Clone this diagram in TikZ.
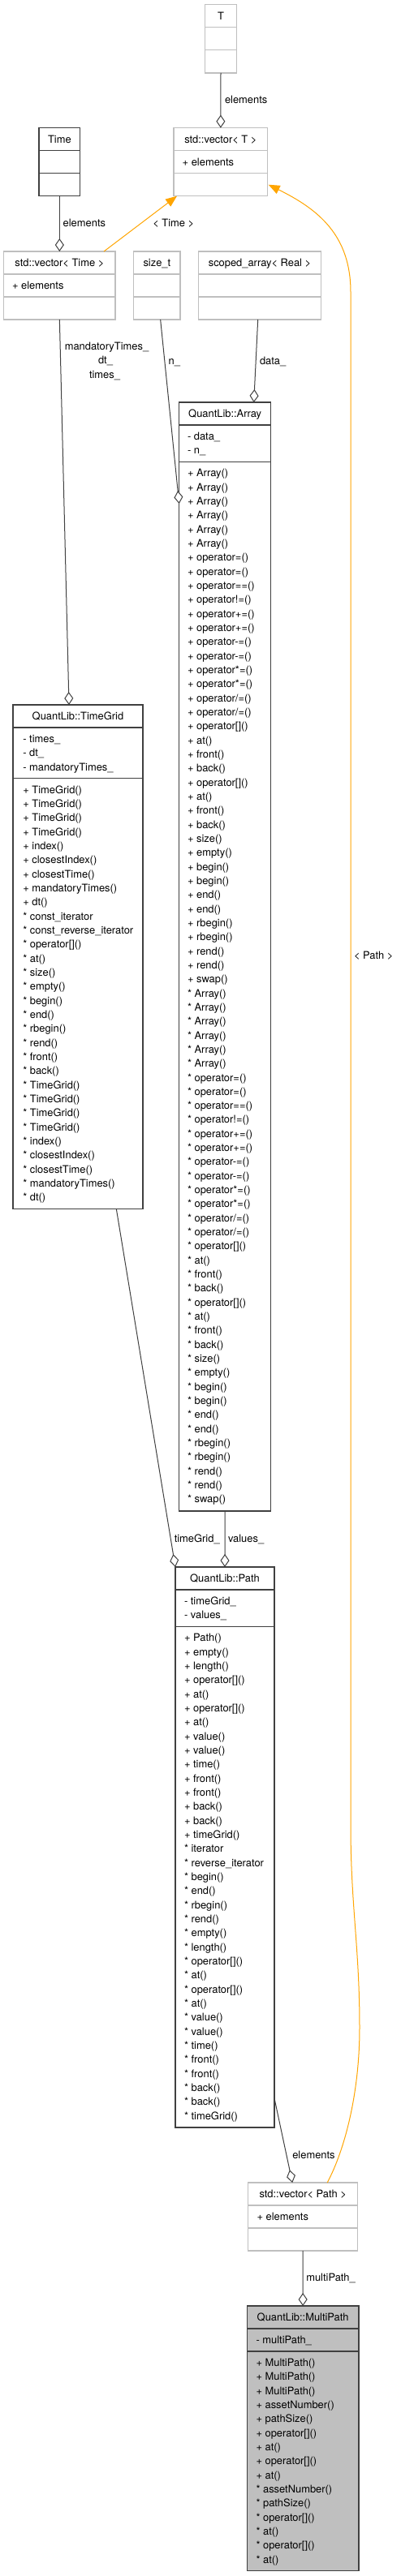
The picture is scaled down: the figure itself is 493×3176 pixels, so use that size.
\documentclass[tikz,border=0pt]{standalone}
\usepackage{fontspec}
\setmainfont{TeX Gyre Heros}
\usetikzlibrary{arrows.meta}
\definecolor{edgegray}{HTML}{404040}
\definecolor{boxgray}{HTML}{BFBFBF}
\definecolor{inhorange}{HTML}{FFA500}
\definecolor{mpfill}{HTML}{BFBFBF}
\tikzset{
  txt/.style={font=\fontsize{12.9}{17.33}\selectfont, inner sep=0pt, outer sep=0pt, text=black},
  darkbox/.style={draw=edgegray, line width=1.3pt, fill=white, inner sep=0pt, outer sep=0pt},
  darkboxline/.style={draw=edgegray, line width=1.3pt},
  graybox/.style={draw=boxgray, line width=1.3pt, fill=white, inner sep=0pt, outer sep=0pt},
  grayboxline/.style={draw=boxgray, line width=1.3pt},
  mpbox/.style={draw=edgegray, line width=1.3pt, fill=mpfill, inner sep=0pt, outer sep=0pt},
  mpboxline/.style={draw=edgegray, line width=1.3pt},
  assoc/.style={draw=edgegray, line width=1pt, -{Diamond[length=16pt, width=11pt, fill=white]}},
  inh/.style={draw=inhorange, line width=1pt, -{Triangle[length=14pt, width=11pt]}},
}
% #1 name, #2 style, #3 x1, #4 x2, #5 top, #6 div1, #7 div2, #8 bottom, #9 title
\newcommand\umlbox[9]{%
  \node[#2, minimum width={#4-#3}, minimum height={#8-#5}, anchor=north west] (#1) at (#3,#5) {};
  \draw[#2line] (#3,#6) -- (#4,#6);
  \draw[#2line] (#3,#7) -- (#4,#7);
  \node[txt, anchor=base] (#1-title) at ({(#3+#4)/2}, #5+18.5) {#9};
}
% #1 name, #2 x, #3 divider y, #4 list
\newcommand\umllist[4]{%
  \foreach \t [count=\i] in {#4} {\node[txt, anchor=base west] (#1-\i) at (#2, #3+18.5+\i*17.33-17.33) {\t};}
}
\begin{document}
\begin{tikzpicture}[x=1pt, y=-1pt]
\fill[white] (0,0) rectangle (493,3176);
\useasboundingbox (0,0) rectangle (493,3176);

% boxes
\umlbox{T}{graybox}{252.7}{291.3}{5.7}{33.3}{61.7}{90}{T}
\umlbox{vecT}{graybox}{214}{329.7}{157.7}{185.7}{213.7}{241.7}{std::vector< T >}
\umllist{vecTa}{224.7}{185.7}{+ elements}
\umlbox{Time}{darkbox}{48}{98.7}{157.7}{185.7}{213.7}{241.7}{Time}
\umlbox{vecTime}{graybox}{4.7}{142}{310}{338}{366}{394}{std::vector< Time >}
\umllist{vecTimea}{15}{338}{+ elements}
\umlbox{sizet}{graybox}{164.7}{222}{310}{338}{366}{394}{size\_t}
\umlbox{scoped}{graybox}{244.7}{395.3}{310}{338}{366}{394}{scoped\_array< Real >}

\umlbox{array}{darkbox}{220.7}{333.7}{496}{524}{569.3}{1863}{QuantLib::Array}
\umllist{arraya}{231}{524}{- data\_, - n\_}
\umllist{arraym}{231}{569.3}{+ Array(), + Array(), + Array(), + Array(), + Array(), + Array(),
 + operator=(), + operator=(), + operator==(), + operator!=(), + operator+=(), + operator+=(),
 + operator-=(), + operator-=(), + operator*=(), + operator*=(), + operator/=(), + operator/=(),
 + operator[](), + at(), + front(), + back(), + operator[](), + at(), + front(), + back(),
 + size(), + empty(), + begin(), + begin(), + end(), + end(), + rbegin(), + rbegin(),
 + rend(), + rend(), + swap(),
 * Array(), * Array(), * Array(), * Array(), * Array(), * Array(),
 * operator=(), * operator=(), * operator==(), * operator!=(), * operator+=(), * operator+=(),
 * operator-=(), * operator-=(), * operator*=(), * operator*=(), * operator/=(), * operator/=(),
 * operator[](), * at(), * front(), * back(), * operator[](), * at(), * front(), * back(),
 * size(), * empty(), * begin(), * begin(), * end(), * end(), * rbegin(), * rbegin(),
 * rend(), * rend(), * swap()}

\umlbox{tg}{darkbox}{16}{176}{869}{897}{959.7}{1490.3}{QuantLib::TimeGrid}
\umllist{tga}{28.3}{897}{- times\_, - dt\_, - mandatoryTimes\_}
\umllist{tgm}{28.3}{959.7}{+ TimeGrid(), + TimeGrid(), + TimeGrid(), + TimeGrid(), + index(),
 + closestIndex(), + closestTime(), + mandatoryTimes(), + dt(), * const\_iterator,
 * const\_reverse\_iterator, * operator[](), * at(), * size(), * empty(), * begin(), * end(),
 * rbegin(), * rend(), * front(), * back(), * TimeGrid(), * TimeGrid(), * TimeGrid(),
 * TimeGrid(), * index(), * closestIndex(), * closestTime(), * mandatoryTimes(), * dt()}

\umlbox{path}{darkbox}{216}{338}{1932}{1960}{2005.3}{2623}{QuantLib::Path}
\umllist{patha}{227}{1960}{- timeGrid\_, - values\_}
\umllist{pathm}{227}{2005.3}{+ Path(), + empty(), + length(), + operator[](), + at(), + operator[](),
 + at(), + value(), + value(), + time(), + front(), + front(), + back(), + back(), + timeGrid(),
 * iterator, * reverse\_iterator, * begin(), * end(), * rbegin(), * rend(), * empty(),
 * length(), * operator[](), * at(), * operator[](), * at(), * value(), * value(), * time(),
 * front(), * front(), * back(), * back(), * timeGrid()}

\umlbox{vecPath}{graybox}{305.7}{440.7}{2691}{2719}{2747}{2775}{std::vector< Path >}
\umllist{vecPatha}{316.5}{2719}{+ elements}

\umlbox{mp}{mpbox}{304.3}{442}{2843}{2871}{2899}{3169.7}{QuantLib::MultiPath}
\umllist{mpa}{315.5}{2871}{- multiPath\_}
\umllist{mpm}{315.5}{2899}{+ MultiPath(), + MultiPath(), + MultiPath(), + assetNumber(),
 + pathSize(), + operator[](), + at(), + operator[](), + at(), * assetNumber(), * pathSize(),
 * operator[](), * at(), * operator[](), * at()}

% associations
\draw[assoc] (T.south) -- (vecT.north);
\node[txt, anchor=base west] (lT) at (277,127.2) {elements};
\draw[assoc] (Time.south) -- (vecTime.north);
\node[txt, anchor=base west] (lTime) at (77.7,279.5) {elements};
\draw[assoc] (vecTime.south) -- ([xshift=-11pt]tg.north);
\node[txt, anchor=base] (lmt) at (131.5,431.2) {mandatoryTimes\_};
\node[txt, anchor=base] (ldt) at (130,448.8) {dt\_};
\node[txt, anchor=base] (ltimes) at (129,466.2) {times\_};
\draw[assoc] ([xshift=4.3pt]sizet.south) -- ([yshift=-125pt]array.north west);
\node[txt, anchor=base west] (ln) at (207.7,449.5) {n\_};
\draw[assoc] ([xshift=-2.3pt]scoped.south) -- ([xshift=35.5pt]array.north);
\node[txt, anchor=base west] (ldata) at (320,449.5) {data\_};
\draw[assoc] (array.south) -- (path.north);
\node[txt, anchor=base west] (lvalues) at (281,1901.2) {values\_};
\draw[assoc] ([xshift=47.3pt]tg.south) -- (path.north west);
\node[txt, anchor=base east] (ltg) at (270.7,1901.2) {timeGrid\_};
\draw[assoc] ([yshift=-655pt]path.north east) -- ([xshift=-13pt]vecPath.north);
\node[txt, anchor=base west] (lel) at (360.3,2661.2) {elements};
\draw[assoc] (vecPath.south) -- (mp.north);
\node[txt, anchor=base west] (lmp) at (377.3,2812.8) {multiPath\_};

% template instantiations
\draw[inh] ([xshift=-14pt]vecTime.north east) -- ([xshift=4pt]vecT.south west);
\node[txt, anchor=base west] (ltime2) at (188.3,279.5) {< Time >};
\coordinate (bulge) at (443,2500);
\coordinate (lowstraight) at (432,2250);
\coordinate (topstraight) at (432,360);
\draw[inh] ([xshift=30pt]vecPath.north) .. controls (425,2650) and (443,2580) .. (bulge)
  .. controls (443,2400) and (432,2350) .. (lowstraight) -- (topstraight)
  .. controls (432,290) and (392,258) .. ([xshift=1pt,yshift=-28pt]vecT.east);
\node[txt, anchor=base west] (lpath) at (436,1182.8) {< Path >};
\end{tikzpicture}
\end{document}
